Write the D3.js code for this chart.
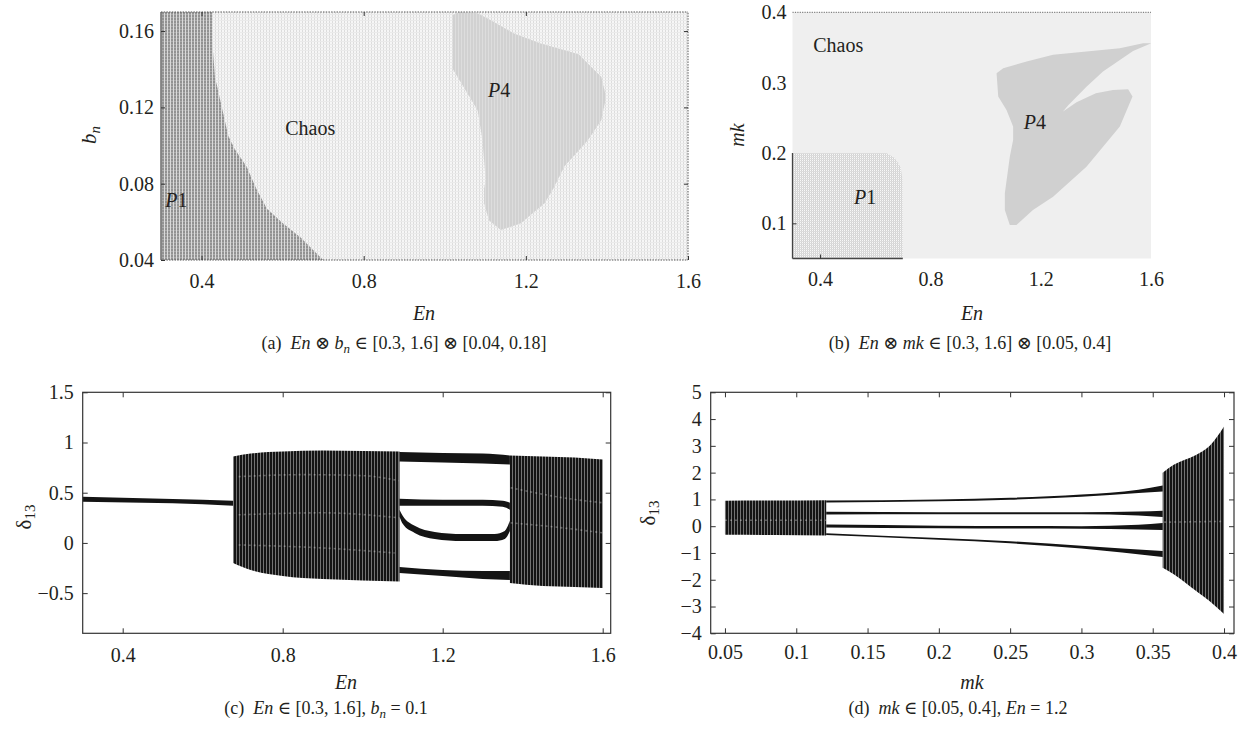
<!DOCTYPE html>
<html>
<head>
<meta charset="utf-8">
<script src="https://cdn.jsdelivr.net/npm/d3@7"></script>
<style>
body { margin: 0; background: #fff; }
text { font-family: "Liberation Serif", "DejaVu Serif", serif; font-size: 18px; fill: #231f20; white-space: pre; }
</style>
</head>
<body>
<svg id="fig" width="1247" height="739"></svg>
<script>
////////////////////////////////////////////////////////////////////////////////
// Data

// (a) En x b_n plane : region outlines as [En, b_n]
var enTicksA = [0.4, 0.8, 1.2, 1.6];
var bnTicksA = [0.04, 0.08, 0.12, 0.16];
var p1EdgeA = [[0.3,0.17],[0.426,0.17],[0.426,0.156],[0.433,0.136],[0.447,0.123],[0.466,0.105],
  [0.482,0.098],[0.511,0.089],[0.536,0.077],[0.561,0.067],[0.602,0.059],[0.643,0.052],[0.70,0.04],[0.3,0.04]];
var p4EdgeA = [[1.035,0.170],[1.081,0.1693],[1.114,0.1657],[1.171,0.1587],[1.237,0.1535],[1.320,0.1485],
  [1.332,0.1476],[1.353,0.143],[1.386,0.136],[1.398,0.1255],[1.386,0.1133],[1.353,0.1028],[1.295,0.089],
  [1.266,0.0767],[1.246,0.0697],[1.188,0.0592],[1.138,0.0557],[1.109,0.0609],[1.097,0.0697],[1.097,0.0775],
  [1.101,0.0819],[1.093,0.1028],[1.081,0.1185],[1.019,0.1404],[1.019,0.1683]];

// (b) En x mk plane : region outlines as [En, mk]
var enTicksB = [0.4, 0.8, 1.2, 1.6];
var mkTicksB = [0.1, 0.2, 0.3, 0.4];
var p1EdgeB = [[0.3,0.05],[0.3,0.2],[0.641,0.2],[0.671,0.193],[0.692,0.18],[0.699,0.162],[0.70,0.05]];
var p4EdgeB = [[1.088,0.0977],[1.070,0.119],[1.070,0.1427],[1.088,0.1948],[1.100,0.2186],[1.100,0.2375],
  [1.076,0.2612],[1.046,0.2802],[1.040,0.3134],[1.064,0.3206],[1.149,0.330],[1.245,0.3395],[1.366,0.3442],
  [1.487,0.349],[1.571,0.356],[1.601,0.356],[1.535,0.345],[1.426,0.316],[1.366,0.294],[1.30,0.268],
  [1.281,0.2588],[1.33,0.272],[1.40,0.285],[1.462,0.2897],[1.517,0.2907],[1.533,0.2802],[1.487,0.2375],
  [1.366,0.1806],[1.245,0.1379],[1.172,0.119],[1.112,0.0977]];

// (c) bifurcation over En, b_n = 0.1 : bands as [En, upper, lower]
var enTicksC = [0.4, 0.8, 1.2, 1.6];
var deltaTicksC = [-0.5, 0, 0.5, 1, 1.5];
var period1C = [[0.3,0.46,0.41],[0.45,0.445,0.40],[0.6,0.43,0.385],[0.676,0.42,0.37]];
var chaos1C = [[0.676,0.86,-0.20],[0.72,0.89,-0.27],[0.8,0.91,-0.33],[0.9,0.92,-0.36],[1.0,0.915,-0.375],[1.092,0.91,-0.385]];
var p4TopC = [[1.092,0.905,0.81],[1.2,0.895,0.80],[1.3,0.89,0.79],[1.368,0.87,0.78]];
var p4SecondC = [[1.092,0.44,0.37],[1.2,0.43,0.37],[1.3,0.43,0.37],[1.35,0.42,0.36],[1.368,0.40,0.33]];
var p4ThirdC = [[1.092,0.33,0.26],[1.10,0.27,0.19],[1.13,0.17,0.10],[1.18,0.11,0.04],[1.25,0.09,0.02],
  [1.33,0.09,0.02],[1.355,0.12,0.04],[1.368,0.22,0.12]];
var p4BottomC = [[1.092,-0.24,-0.30],[1.2,-0.27,-0.33],[1.3,-0.28,-0.36],[1.368,-0.28,-0.37]];
var chaos2C = [[1.368,0.87,-0.40],[1.45,0.86,-0.43],[1.53,0.85,-0.44],[1.6,0.83,-0.45]];
var streaksC = [
  [[0.69,0.66],[0.85,0.68],[1.0,0.67],[1.09,0.62]],
  [[0.69,0.28],[0.9,0.30],[1.09,0.25]],
  [[0.69,-0.02],[0.9,-0.05],[1.08,-0.1]],
  [[1.37,0.55],[1.5,0.45],[1.6,0.40]],
  [[1.37,0.20],[1.5,0.15],[1.6,0.10]]];

// (d) bifurcation over mk, En = 1.2 : bands as [mk, upper, lower]
var mkTicksD = [0.05, 0.1, 0.15, 0.2, 0.25, 0.3, 0.35, 0.4];
var deltaTicksD = [-4, -3, -2, -1, 0, 1, 2, 3, 4, 5];
var chaos1D = [[0.05,0.95,-0.32],[0.085,0.96,-0.33],[0.121,0.97,-0.35]];
var p4TopD = [[0.121,0.96,0.88],[0.2,1.0,0.93],[0.25,1.06,0.99],[0.3,1.18,1.10],[0.34,1.36,1.24],[0.357,1.52,1.30]];
var p4SecondD = [[0.121,0.54,0.44],[0.2,0.52,0.45],[0.3,0.52,0.45],[0.34,0.55,0.40],[0.357,0.58,0.34]];
var p4ThirdD = [[0.121,0.06,-0.05],[0.2,0.02,-0.08],[0.3,0.0,-0.1],[0.34,0.05,-0.12],[0.357,0.12,-0.14]];
var p4BottomD = [[0.121,-0.26,-0.33],[0.2,-0.44,-0.51],[0.25,-0.56,-0.64],[0.3,-0.73,-0.83],[0.357,-0.93,-1.15]];
var chaos2D = [[0.357,2.0,-1.55],[0.365,2.3,-1.8],[0.38,2.65,-2.4],[0.39,3.0,-2.8],[0.40,3.72,-3.28]];
var streaksD = [
  [[0.05,0.22],[0.121,0.22]],
  [[0.358,0.15],[0.40,0.18]]];

////////////////////////////////////////////////////////////////////////////////
// Set up
var svg = d3.select('#fig');
var defs = svg.append('defs');
var tickFont = '20px';

// little helper for the fill textures
function pattern(id, w, h, base, marks){
	var p = defs.append('pattern').attr('id', id)
		.attr('width', w).attr('height', h)
		.attr('patternUnits', 'userSpaceOnUse');
	p.append('rect').attr('width', w).attr('height', h).attr('fill', base);
	marks.forEach(function(m){
		p.append('rect').attr('x', m[0]).attr('y', m[1])
			.attr('width', m[2]).attr('height', m[3])
			.attr('fill', m[4]).attr('opacity', m[5] == null ? 1 : m[5]);
	});
}
pattern('chaosA', 3, 3, '#f6f6f6', [[2,0,1,3,'#dcdcdc'],[0,2,3,1,'#eaeaea']]);
pattern('p1A', 3, 3, '#929292', [[2,0,1,3,'#dadada'],[0,2,2,1,'#ababab']]);
pattern('p4A', 3, 3, '#d1d1d1', [[2,0,1,3,'#dddddd']]);
pattern('p1B', 2, 2, '#f8f8f8', [[1,0,1,2,'#d2d2d2'],[0,1,2,1,'#dcdcdc']]);
pattern('stripe', 3, 3, '#141414', [[2.1,0,0.9,3,'#ffffff',0.45]]);

var outline = d3.line().curve(d3.curveLinearClosed);

function band(x, y){
	return d3.area()
		.x(function(d){ return x(d[0]); })
		.y0(function(d){ return y(d[2]); })
		.y1(function(d){ return y(d[1]); })
		.curve(d3.curveMonotoneX);
}

// axis with inward ticks, style cleanup
function axis(g, ax){
	g.call(ax);
	g.attr('font-size', null).attr('font-family', null).attr('color', '#333');
	g.select('.domain').remove();
	g.selectAll('text').style('font-size', tickFont);
	return g;
}

// text with italic bits and subscripts: parts = [[text, italic, sub]]
function richText(g, x, y, parts, rotate, size){
	var t = g.append('text').attr('text-anchor', 'middle');
	if (size) t.style('font-size', size + 'px');
	var sub = Math.round((size || 18) * 0.72) + 'px';
	if (rotate) t.attr('transform', 'translate(' + x + ',' + y + ') rotate(-90)');
	else t.attr('x', x).attr('y', y);
	var down = false;
	parts.forEach(function(p){
		var s = t.append('tspan').text(p[0]);
		if (p[1]) s.style('font-style', 'italic');
		if (p[2] && !down){ s.attr('dy', 4).style('font-size', sub); down = true; }
		else if (p[2]) { s.style('font-size', sub); }
		else if (down){ s.attr('dy', -4); down = false; }
	});
	return t;
}

function regionLabel(g, x, y, txt){
	var t = g.append('text').attr('x', x).attr('y', y).attr('text-anchor', 'middle').style('font-size', '20px');
	if (txt == 'Chaos') t.text(txt);
	else {
		t.append('tspan').style('font-style', 'italic').text('P');
		t.append('tspan').text(txt.slice(1));
	}
}

////////////////////////////////////////////////////////////////////////////////
// (a)
(function(){
	var x = d3.scaleLinear().domain([0.3, 1.6]).range([161, 688]);
	var y = d3.scaleLinear().domain([0.04, 0.17]).range([260, 12]);
	var g = svg.append('g');
	var line = outline.x(function(d){ return x(d[0]); }).y(function(d){ return y(d[1]); });

	g.append('rect').attr('x', x(0.3)).attr('y', y(0.17))
		.attr('width', x(1.6) - x(0.3)).attr('height', y(0.04) - y(0.17))
		.attr('fill', 'url(#chaosA)');
	g.append('path').attr('d', line(p1EdgeA)).attr('fill', 'url(#p1A)');
	g.append('path').attr('d', line(p4EdgeA)).attr('fill', 'url(#p4A)');

	// frame: solid at the left, dotted elsewhere
	g.append('line').attr('x1', x(0.3)).attr('x2', x(0.3)).attr('y1', y(0.04)).attr('y2', y(0.17))
		.attr('stroke', '#555').attr('stroke-width', 1.3);
	[[0.3,0.17,1.6,0.17],[0.3,0.04,1.6,0.04],[1.6,0.04,1.6,0.17]].forEach(function(s){
		g.append('line').attr('x1', x(s[0])).attr('y1', y(s[1])).attr('x2', x(s[2])).attr('y2', y(s[3]))
			.attr('stroke', '#555').attr('stroke-width', 1).attr('stroke-dasharray', '1.5,1.2');
	});

	axis(g.append('g').attr('transform', 'translate(0,' + y(0.04) + ')'),
		d3.axisBottom(x).tickValues(enTicksA).tickSize(-4).tickPadding(14).tickFormat(d3.format('.1f')));
	axis(g.append('g').attr('transform', 'translate(0,' + y(0.17) + ')'),
		d3.axisTop(x).tickValues(enTicksA.slice(0, 3)).tickSize(-4).tickFormat(''));
	axis(g.append('g').attr('transform', 'translate(' + x(0.3) + ',0)'),
		d3.axisLeft(y).tickValues(bnTicksA).tickSize(-4).tickPadding(7).tickFormat(d3.format('.2f')));
	axis(g.append('g').attr('transform', 'translate(' + x(1.6) + ',0)'),
		d3.axisRight(y).tickValues(bnTicksA.slice(1)).tickSize(-4).tickFormat(''));

	regionLabel(g, x(0.668), y(0.109) + 7, 'Chaos');
	regionLabel(g, x(0.338), y(0.0714) + 7, 'P1');
	regionLabel(g, x(1.134), y(0.129) + 7, 'P4');

	richText(g, 96, 135, [['b', true], ['n', true, true]], true, 21);
	richText(g, 424, 320, [['En', true]], false, 20);
	richText(g, 404, 349, [['(a)  '], ['En', true], [' \u2297 '], ['b', true], ['n', true, true],
		[' \u2208 [0.3, 1.6] \u2297 [0.04, 0.18]']]);
})();

////////////////////////////////////////////////////////////////////////////////
// (b)
(function(){
	var x = d3.scaleLinear().domain([0.3, 1.6]).range([792.5, 1151]);
	var y = d3.scaleLinear().domain([0.05, 0.4]).range([258.5, 12.3]);
	var g = svg.append('g');
	var line = d3.line().curve(d3.curveLinearClosed)
		.x(function(d){ return x(d[0]); }).y(function(d){ return y(d[1]); });

	g.append('rect').attr('x', x(0.3)).attr('y', y(0.4))
		.attr('width', x(1.6) - x(0.3)).attr('height', y(0.05) - y(0.4))
		.attr('fill', '#efefef');
	g.append('path').attr('d', line(p1EdgeB)).attr('fill', 'url(#p1B)');
	g.append('path').attr('d', line(p4EdgeB)).attr('fill', '#d0d0d0');

	// visible edges: top dotted, P1 block solid
	g.append('line').attr('x1', x(0.3)).attr('x2', x(1.6)).attr('y1', y(0.4)).attr('y2', y(0.4))
		.attr('stroke', '#666').attr('stroke-dasharray', '1.2,1.2');
	g.append('line').attr('x1', x(0.3)).attr('x2', x(0.3)).attr('y1', y(0.05)).attr('y2', y(0.2))
		.attr('stroke', '#444').attr('stroke-width', 1.3);
	g.append('line').attr('x1', x(0.3)).attr('x2', x(0.7)).attr('y1', y(0.05)).attr('y2', y(0.05))
		.attr('stroke', '#444').attr('stroke-width', 1.3);

	axis(g.append('g').attr('transform', 'translate(0,' + y(0.05) + ')'),
		d3.axisBottom(x).tickValues(enTicksB).tickSize(0).tickPadding(13).tickFormat(d3.format('.1f')));
	axis(g.append('g').attr('transform', 'translate(' + x(0.3) + ',0)'),
		d3.axisLeft(y).tickValues(mkTicksB).tickSize(0).tickPadding(6).tickFormat(d3.format('.1f')));
	// only the ticks that show through the P1 block
	axis(g.append('g').attr('transform', 'translate(0,' + y(0.05) + ')'),
		d3.axisBottom(x).tickValues([0.4]).tickSize(-4).tickFormat(''));
	axis(g.append('g').attr('transform', 'translate(' + x(0.3) + ',0)'),
		d3.axisLeft(y).tickValues([0.1]).tickSize(-4).tickFormat(''));

	regionLabel(g, x(0.466), y(0.353) + 7, 'Chaos');
	regionLabel(g, x(0.563), y(0.138) + 7, 'P1');
	regionLabel(g, x(1.179), y(0.2446) + 7, 'P4');

	richText(g, 744, 135, [['mk', true]], true, 20);
	richText(g, 972, 320, [['En', true]], false, 20);
	richText(g, 970, 349, [['(b)  '], ['En', true], [' \u2297 '], ['mk', true],
		[' \u2208 [0.3, 1.6] \u2297 [0.05, 0.4]']]);
})();

////////////////////////////////////////////////////////////////////////////////
// bifurcation panels (c) and (d)
function bifurcation(x, y, xt, yt, chaos, periodic, streaks, xPad){
	var g = svg.append('g');
	var area = band(x, y);
	chaos.forEach(function(c){
		g.append('path').attr('d', area(c)).attr('fill', 'url(#stripe)');
	});
	periodic.forEach(function(p){
		g.append('path').attr('d', area(p)).attr('fill', '#141414');
	});
	var sl = d3.line().curve(d3.curveMonotoneX)
		.x(function(d){ return x(d[0]); }).y(function(d){ return y(d[1]); });
	streaks.forEach(function(s){
		g.append('path').attr('d', sl(s)).attr('fill', 'none')
			.attr('stroke', '#fff').attr('stroke-width', 1.6).attr('stroke-opacity', 0.3)
			.attr('stroke-dasharray', '2,3');
	});

	var x0 = x.range()[0], x1 = x.range()[1], y0 = y.range()[0], y1 = y.range()[1];
	g.append('rect').attr('x', x0).attr('y', y1).attr('width', x1 - x0).attr('height', y0 - y1)
		.attr('fill', 'none').attr('stroke', '#333').attr('stroke-width', 1.2);

	axis(g.append('g').attr('transform', 'translate(0,' + y0 + ')'),
		d3.axisBottom(x).tickValues(xt).tickSize(-5).tickPadding(xPad).tickFormat(d3.format('~g')));
	axis(g.append('g').attr('transform', 'translate(0,' + y1 + ')'),
		d3.axisTop(x).tickValues(xt).tickSize(-5).tickFormat(''));
	axis(g.append('g').attr('transform', 'translate(' + x0 + ',0)'),
		d3.axisLeft(y).tickValues(yt).tickSize(-5).tickPadding(9).tickFormat(d3.format('~g')));
	axis(g.append('g').attr('transform', 'translate(' + x1 + ',0)'),
		d3.axisRight(y).tickValues(yt).tickSize(-5).tickFormat(''));
	return g;
}

(function(){
	var x = d3.scaleLinear().domain([0.3, 1.62]).range([82.7, 610.7]);
	var y = d3.scaleLinear().domain([-0.9, 1.5]).range([633.3, 392.3]);
	var g = bifurcation(x, y, enTicksC, deltaTicksC, [chaos1C, chaos2C],
		[period1C, p4TopC, p4SecondC, p4ThirdC, p4BottomC], streaksC, 15);
	richText(g, 31, 517, [['\u03b4'], ['13', false, true]], true, 21);
	richText(g, 346, 689, [['En', true]], false, 20);
	richText(g, 326, 714, [['(c)  '], ['En', true], [' \u2208 [0.3, 1.6], '], ['b', true], ['n', true, true],
		[' = 0.1']]);
})();

(function(){
	var x = d3.scaleLinear().domain([0.04, 0.407]).range([710.7, 1234]);
	var y = d3.scaleLinear().domain([-4, 5]).range([633.3, 392.3]);
	var g = bifurcation(x, y, mkTicksD, deltaTicksD, [chaos1D, chaos2D],
		[p4TopD, p4SecondD, p4ThirdD, p4BottomD], streaksD, 12);
	richText(g, 655, 513, [['\u03b4'], ['13', false, true]], true, 21);
	richText(g, 972, 689, [['mk', true]], false, 20);
	richText(g, 958, 714, [['(d)  '], ['mk', true], [' \u2208 [0.05, 0.4], '], ['En', true], [' = 1.2']]);
})();
</script>
</body>
</html>
